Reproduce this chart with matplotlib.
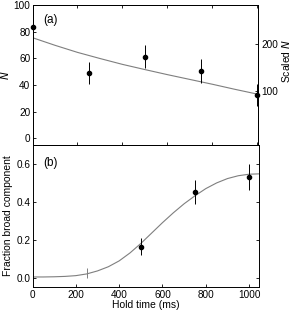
import numpy as np
import matplotlib
matplotlib.use('Agg')
import matplotlib.pyplot as plt

plt.rcParams['font.family'] = ['Liberation Sans', 'DejaVu Sans']
plt.rcParams['font.size'] = 7.2

# (a) atom number vs hold time
t_a = [0, 250, 500, 750, 1000]
N_a = [83.8, 48.9, 61.3, 50.6, 32.5]
N_err = [8.4, 8.2, 8.7, 8.8, 8.5]

# fit curve
fit_t_a = [0, 100, 200, 300, 400, 500, 600, 700, 800, 900, 1000]
fit_N_a = [75.5, 69.8, 64.5, 59.9, 55.5, 51.6, 47.8, 44.2, 40.6, 36.8, 33.2]

# scale factor between N and scaled N (right axis)
scale_N = 2.83

# (b) fraction in broad component
t_b = [500, 750, 1000]
frac_b = [0.163, 0.451, 0.531]
frac_err = [0.045, 0.064, 0.07]
t_b0 = [250]
frac_b0 = [0.022]
frac_err0 = [0.026]

fit_t_b = [0, 50, 100, 150, 200, 250, 300, 350, 400, 450, 500, 550,
           600, 650, 700, 750, 800, 850, 900, 950, 1000, 1050]
fit_f_b = [0.003, 0.003, 0.004, 0.006, 0.010, 0.019, 0.035, 0.057, 0.088,
           0.130, 0.180, 0.235, 0.290, 0.342, 0.390, 0.432, 0.470, 0.500,
           0.523, 0.538, 0.546, 0.548]

fig = plt.figure(figsize=(2.91, 3.14), dpi=100)
ax1 = fig.add_axes([0.1117, 0.538, 0.7766, 0.446])
ax2 = fig.add_axes([0.1117, 0.086, 0.778, 0.452])

grey = '#7f7f7f'

# top panel
ax1.plot(fit_t_a, fit_N_a, color=grey, lw=0.8)
ax1.errorbar(t_a, N_a, yerr=N_err, fmt='o', color='k', ms=3, elinewidth=0.7,
             capsize=0, clip_on=False, zorder=3)
ax1.set_xlim(0, 1005)
ax1.set_ylim(-5, 100)
ax1.set_xticks(np.arange(0, 1001, 200))
ax1.set_xticklabels([])
ax1.set_yticks(np.arange(0, 101, 20))
ax1.tick_params(direction='in', length=2.5, width=0.6, top=True, right=False, pad=1.5)
ax1.set_ylabel('$N$', fontsize=7.5)
ax1.yaxis.set_label_coords(-0.095, 0.5)
ax1.text(0.046, 0.89, '(a)', transform=ax1.transAxes, fontsize=8.5,
         ha='left', va='center')

ax1r = ax1.twinx()
ax1r.set_ylim(-5 * scale_N, 100 * scale_N)
ax1r.set_yticks([100, 200])
ax1r.tick_params(direction='in', length=2.5, width=0.6, pad=2)
ax1r.set_ylabel('Scaled $N$', fontsize=7.5)
ax1r.yaxis.set_label_coords(1.093, 0.6)

# bottom panel
ax2.plot(fit_t_b, fit_f_b, color=grey, lw=0.8)
ax2.errorbar(t_b0, frac_b0, yerr=frac_err0, fmt='none', ecolor=grey,
             elinewidth=0.7, capsize=0)
ax2.errorbar(t_b, frac_b, yerr=frac_err, fmt='o', color='k', ms=3,
             elinewidth=0.7, capsize=0, zorder=3)
ax2.set_xlim(0, 1045)
ax2.set_ylim(-0.05, 0.7)
ax2.set_xticks(np.arange(0, 1001, 200))
ax2.set_yticks([0.0, 0.2, 0.4, 0.6])
ax2.set_yticklabels(['0.0', '0.2', '0.4', '0.6'])
ax2.tick_params(direction='in', length=2.5, width=0.6, right=True, pad=1.5)
ax2.tick_params(axis='x', pad=2)
ax2.set_xlabel('Hold time (ms)', fontsize=7.5)
ax2.xaxis.set_label_coords(0.5, -0.095)
ax2.set_ylabel('Fraction broad component', fontsize=7.5)
ax2.yaxis.set_label_coords(-0.088, 0.5)
ax2.text(0.046, 0.873, '(b)', transform=ax2.transAxes, fontsize=8.5,
         ha='left', va='center')

for ax in (ax1, ax1r, ax2):
    for s in ax.spines.values():
        s.set_linewidth(0.7)

fig.savefig('out.png', dpi=100)
